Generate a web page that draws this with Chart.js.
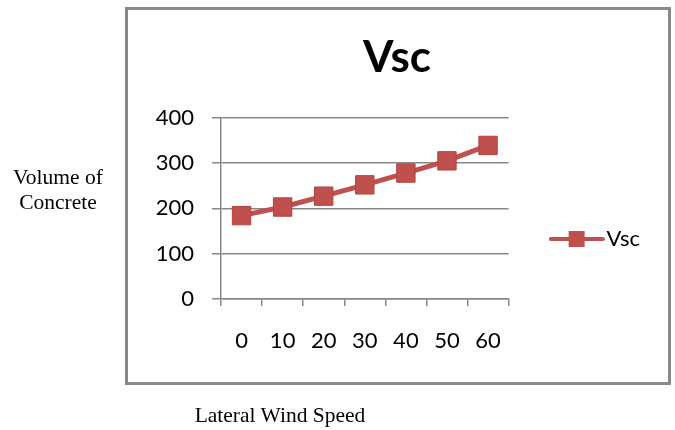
<!DOCTYPE html>
<html>
<head>
<meta charset="utf-8">
<script src="https://cdn.jsdelivr.net/npm/chart.js@4.4.1/dist/chart.umd.min.js"></script>
<style>
  html, body { margin: 0; padding: 0; background: #fff; }
  #wrap { position: relative; width: 675px; height: 430px; overflow: hidden; }
  #wrap canvas { position: absolute; left: 0; top: 0; }
  .outer { position: absolute; font-family: "Liberation Serif", "Times New Roman", serif; font-size: 21.5px; color: #000; text-align: center; line-height: 25px; }
</style>
</head>
<body>
<div id="wrap">
  <canvas id="vscChart" width="675" height="430"></canvas>
  <div class="outer" style="left:0; top:165px; width:116px;">Volume of<br>Concrete</div>
  <div class="outer" style="left:170px; top:403px; width:220px;">Lateral Wind Speed</div>
</div>
<script>
const speeds = ["0", "10", "20", "30", "40", "50", "60"];
const vscValues = [184, 203, 227, 252, 278, 305, 339];
const yTicks = [0, 100, 200, 300, 400];

const red = "#C0504D";
const gridGray = "#878787";

// legend sample: short line with square marker
const legendIcon = document.createElement("canvas");
legendIcon.width = 56;
legendIcon.height = 20;
const lc = legendIcon.getContext("2d");
lc.strokeStyle = red;
lc.lineWidth = 4;
lc.lineCap = "round";
lc.beginPath();
lc.moveTo(2, 10);
lc.lineTo(54, 10);
lc.stroke();
lc.fillStyle = red;
lc.fillRect(20, 2, 16, 16);

const framePlugin = {
  id: "frame",
  beforeDraw(chart) {
    const ctx = chart.ctx;
    ctx.save();
    ctx.fillStyle = "#fff";
    ctx.fillRect(0, 0, chart.width, chart.height);
    ctx.strokeStyle = "#898989";
    ctx.lineWidth = 3;
    ctx.strokeRect(126.5, 8.5, 543, 375);
    ctx.restore();
  }
};

new Chart(document.getElementById("vscChart"), {
  type: "line",
  data: {
    labels: speeds,
    datasets: [{
      label: "Vsc",
      data: vscValues,
      borderColor: red,
      backgroundColor: red,
      borderWidth: 5,
      pointStyle: "rect",
      pointRadius: 13,
      pointHoverRadius: 13,
      pointBackgroundColor: red,
      pointBorderColor: "#B4433F",
      pointBorderWidth: 1,
      tension: 0
    }]
  },
  options: {
    responsive: false,
    animation: false,
    layout: { padding: { left: 144, right: 25, top: 10, bottom: 75 } },
    plugins: {
      title: {
        display: true,
        text: "Vsc",
        color: "#000",
        font: { family: "Lato", size: 44, weight: "bold" },
        padding: { top: 21, bottom: 34 }
      },
      legend: {
        position: "right",
        fullSize: false,
        align: "end",
        maxWidth: 220,
        labels: {
          usePointStyle: true,
          pointStyleWidth: 38,
          padding: 49,
          color: "#000",
          font: { family: "Lato", size: 22 },
          generateLabels: (chart) => [{
            text: "Vsc",
            pointStyle: legendIcon,
            fillStyle: red,
            strokeStyle: red,
            lineWidth: 0,
            datasetIndex: 0
          }]
        }
      },
      tooltip: { enabled: false }
    },
    scales: {
      x: {
        offset: true,
        grid: {
          offset: true,
          drawOnChartArea: false,
          drawTicks: true,
          tickLength: 7,
          color: gridGray,
          lineWidth: 1.5
        },
        border: { color: gridGray, width: 1.5 },
        ticks: {
          color: "#000",
          padding: 22,
          font: { family: "Lato", size: 22 },
          maxRotation: 0
        },
        afterFit(scale) { scale.height = 56; }
      },
      y: {
        min: 0,
        max: 400,
        afterBuildTicks(scale) { scale.ticks = yTicks.map(v => ({ value: v })); },
        grid: {
          color: gridGray,
          lineWidth: 1.5,
          tickLength: 9
        },
        border: { color: gridGray, width: 1.5 },
        ticks: {
          color: "#000",
          padding: 18,
          font: { family: "Lato", size: 22 }
        },
        afterFit(scale) { scale.width = 77; }
      }
    }
  },
  plugins: [framePlugin]
});
</script>
</body>
</html>
